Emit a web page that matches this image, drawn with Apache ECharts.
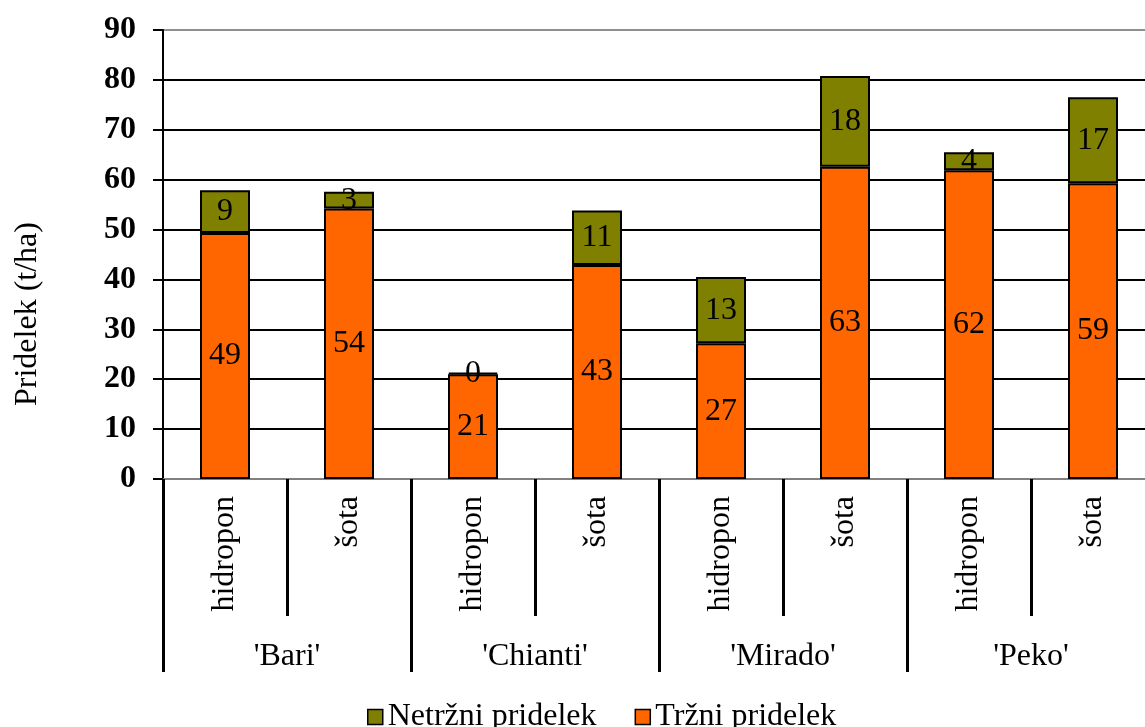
<!DOCTYPE html>
<html>
<head>
<meta charset="utf-8">
<script src="https://cdn.jsdelivr.net/npm/echarts@6/dist/echarts.min.js"></script>
<style>
html,body{margin:0;padding:0;background:#fff;}
#main{width:1145px;height:727px;}
</style>
</head>
<body>
<div id="main"></div>
<script>
var subCategories = ['hidropon', 'šota', 'hidropon', 'šota', 'hidropon', 'šota', 'hidropon', 'šota'];
var groups = ["'Bari'", "'Chianti'", "'Mirado'", "'Peko'"];
var trzni = [49.3, 54.2, 21.0, 42.9, 27.2, 62.6, 61.9, 59.3];
var netrzni = [8.6, 3.4, 0.3, 10.9, 13.3, 18.2, 3.6, 17.2];
var yTicks = [0, 10, 20, 30, 40, 50, 60, 70, 80, 90];
var seriesNames = ['Netržni pridelek', 'Tržni pridelek'];
var yTitle = 'Pridelek (t/ha)';

var FONT = '"Liberation Serif", "Times New Roman", serif';
var chart = echarts.init(document.getElementById('main'), null, {renderer: 'canvas'});

var labelCfg = {
  show: true,
  position: 'inside',
  color: '#000',
  fontFamily: FONT,
  fontSize: 32,
  formatter: function (p) { return String(Math.round(p.value)); }
};

var gridColors = yTicks.map(function (t, i) { return i === yTicks.length - 1 ? '#909090' : '#000'; });

chart.setOption({
  animation: false,
  backgroundColor: '#fff',
  grid: {left: 163, top: 30, width: 992, height: 449, outerBoundsMode: 'none', containLabel: false},
  legend: {
    data: seriesNames,
    left: 362,
    top: 696,
    icon: 'rect',
    itemWidth: 15,
    itemHeight: 15,
    itemGap: 38,
    textStyle: {fontFamily: FONT, fontSize: 32, color: '#000'},
    itemStyle: {borderColor: '#000', borderWidth: 1.5}
  },
  graphic: [{
    type: 'text',
    x: 28,
    y: 314,
    rotation: Math.PI / 2,
    style: {
      text: yTitle,
      font: '32px ' + FONT,
      fill: '#000',
      align: 'center',
      verticalAlign: 'middle'
    }
  }],
  xAxis: [{
    type: 'category',
    data: subCategories,
    boundaryGap: true,
    axisLine: {show: true, lineStyle: {color: '#808080', width: 2}},
    axisTick: {show: true, interval: 0, length: 137, lineStyle: {color: '#000', width: 3}},
    axisLabel: {
      interval: 0,
      rotate: 90,
      margin: 17,
      color: '#000',
      fontFamily: FONT,
      fontSize: 32
    },
    splitLine: {show: false}
  }, {
    type: 'category',
    data: groups,
    position: 'bottom',
    boundaryGap: true,
    axisLine: {show: false},
    axisTick: {show: true, interval: 0, length: 193, lineStyle: {color: '#000', width: 3}},
    axisLabel: {
      interval: 0,
      margin: 162,
      color: '#000',
      fontFamily: FONT,
      fontSize: 32
    },
    splitLine: {show: false}
  }],
  yAxis: {
    type: 'value',
    min: yTicks[0],
    max: yTicks[yTicks.length - 1],
    interval: 10,
    axisLine: {show: true, lineStyle: {color: '#000', width: 2}},
    axisTick: {show: true, length: 10, lineStyle: {color: '#000', width: 2}},
    axisLabel: {
      margin: 27,
      color: '#000',
      fontFamily: FONT,
      fontSize: 32,
      fontWeight: 'bold'
    },
    splitLine: {show: true, lineStyle: {color: gridColors, width: 2}}
  },
  series: [{
    name: seriesNames[1],
    type: 'bar',
    stack: 'total',
    xAxisIndex: 0,
    barWidth: 50,
    data: trzni,
    itemStyle: {color: '#FF6600', borderColor: '#000', borderWidth: 2},
    label: labelCfg
  }, {
    name: seriesNames[0],
    type: 'bar',
    stack: 'total',
    xAxisIndex: 0,
    barWidth: 50,
    data: netrzni,
    itemStyle: {color: '#808000', borderColor: '#000', borderWidth: 2},
    label: labelCfg
  }]
});
</script>
</body>
</html>
